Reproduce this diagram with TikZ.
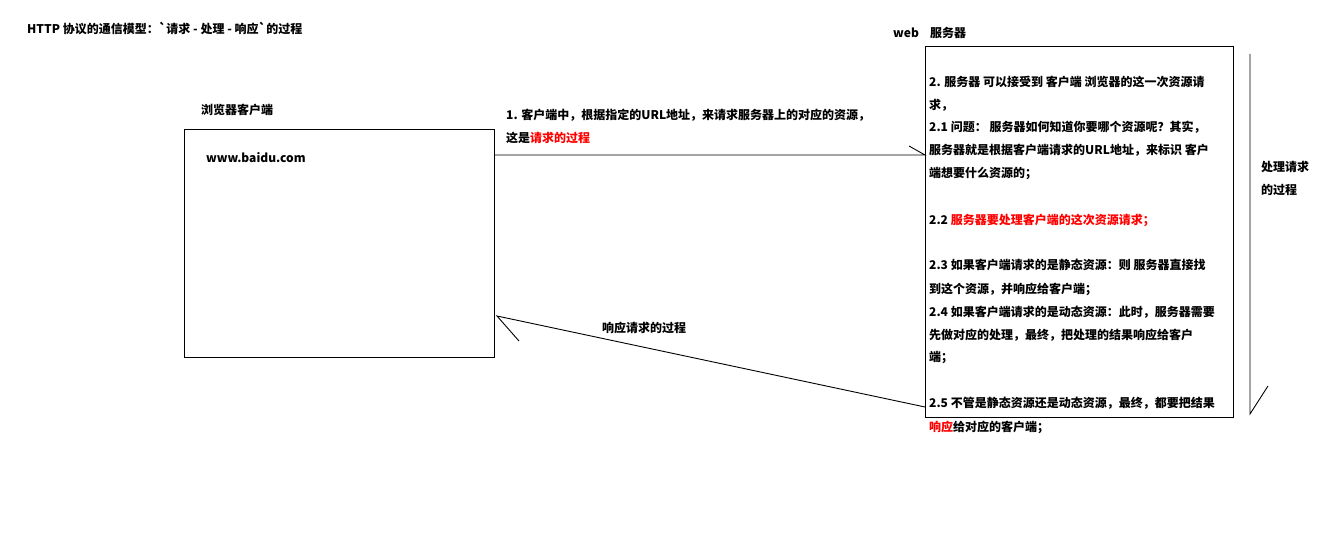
\documentclass[tikz,border=0pt]{standalone}
\usepackage{fontspec}
\newfontfamily\cjk{Noto Sans CJK SC}[Ligatures=TeXOff]
\definecolor{txt}{RGB}{0,0,0}
\definecolor{hl}{RGB}{255,0,0}
\begin{document}
\begin{tikzpicture}[x=1pt,y=-1pt,
  lbl/.style={anchor=west, inner sep=0pt, text height=10.5pt, text depth=1.5pt,
    font=\cjk\bfseries\fontsize{12}{14}\selectfont, text=txt},
  box/.style={draw, line width=1pt, anchor=north west, inner sep=0pt},
  conn/.style={line width=0.9pt}]
\useasboundingbox[fill=white] (0,0) rectangle (1333,545);

% boxes
\node[box, minimum width=310pt, minimum height=228pt] (cl) at (184,129) {};
\node[box, minimum width=308pt, minimum height=371pt] (srv) at (925,46) {};

% labels
\node[lbl] (title) at (27,29) {HTTP 协议的通信模型：`请求 - 处理 - 响应`的过程};
\node[lbl] (web) at (893,33) {web};
\node[lbl] (srvname) at (930,33) {服务器};
\node[lbl] (clname) at (201,110) {浏览器客户端};
\node[lbl] (url) at (206,158) {www.baidu.com};
\node[lbl] (req1) at (506,115) {1. 客户端中，根据指定的URL地址，来请求服务器上的对应的资源，};
\node[lbl] (req2) at (506,138) {这是\textcolor{hl}{请求的过程}};
\node[lbl] (resp) at (602,328) {响应请求的过程};
\node[lbl] (proc1) at (1261,167) {处理请求};
\node[lbl] (proc2) at (1261,190) {的过程};

\foreach \i/\y/\t in {
  1/82/{2. 服务器 可以接受到 客户端 浏览器的这一次资源请},
  2/105/{求，},
  3/127/{2.1 问题： 服务器如何知道你要哪个资源呢？其实，},
  4/150/{服务器就是根据客户端请求的URL地址，来标识 客户},
  5/173/{端想要什么资源的；},
  6/220/{2.2 \textcolor{hl}{服务器要处理客户端的这次资源请求；}},
  7/265/{2.3 如果客户端请求的是静态资源：则 服务器直接找},
  8/289/{到这个资源，并响应给客户端；},
  9/312/{2.4 如果客户端请求的是动态资源：此时，服务器需要},
  10/335/{先做对应的处理，最终，把处理的结果响应给客户},
  11/357/{端；},
  12/403/{2.5 不管是静态资源还是动态资源，最终，都要把结果},
  13/427/{\textcolor{hl}{响应}给对应的客户端；}}
  \node[lbl] (s\i) at (929,\y) {\t};

% connectors
\coordinate (reqY) at (0,155);
\draw[conn] (cl.east |- reqY) -- (srv.west |- reqY) -- ++(-16,-9);

\coordinate (respY) at (0,407);
\coordinate (respTip) at (497,316);
\draw[conn] (srv.west |- respY) -- (respTip) -- ++(22,25);

\coordinate (procTop) at (1250,54);
\coordinate (procBot) at (1250,414);
\draw[conn] (procTop) -- (procBot) -- ++(18,-28);
\end{tikzpicture}
\end{document}
